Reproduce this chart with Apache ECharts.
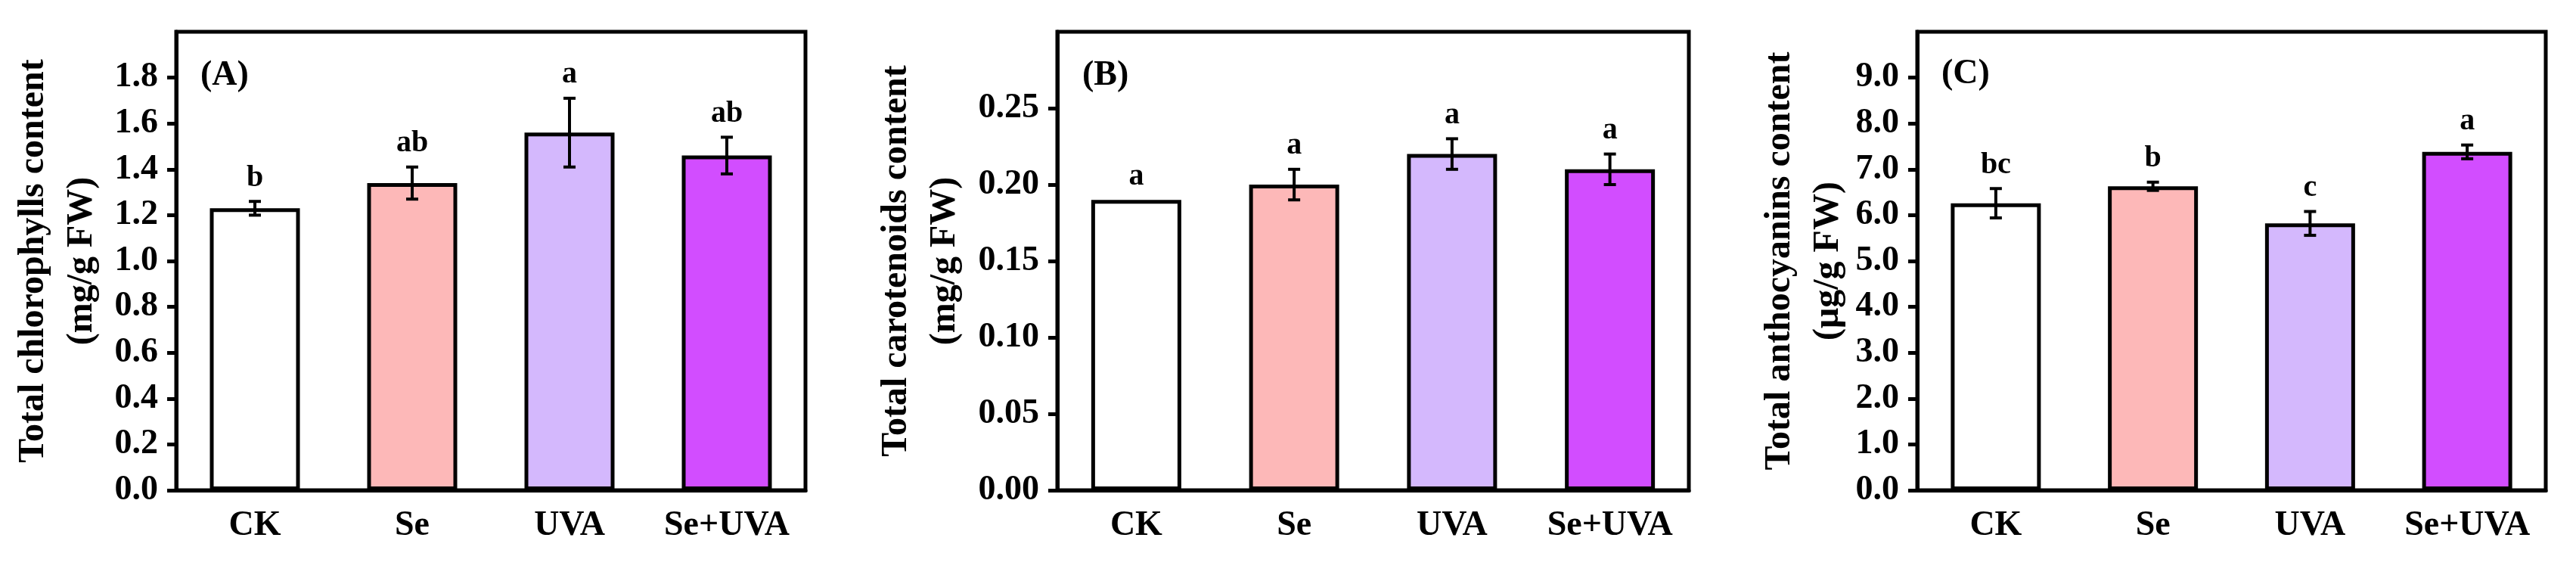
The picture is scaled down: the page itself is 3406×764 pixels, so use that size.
<!DOCTYPE html>
<html>
<head>
<meta charset="utf-8">
<script src="https://cdn.jsdelivr.net/npm/echarts@6/dist/echarts.min.js"></script>
<style>
  html, body { margin: 0; background: #fff; }
  #main { width: 3406px; height: 764px; }
</style>
</head>
<body>
<div id="main"></div>
<script>
// treatments
const categories = ['CK', 'Se', 'UVA', 'Se+UVA'];

// (A) total chlorophylls, mg/g FW
const chlMean = [1.23, 1.34, 1.56, 1.46];
const chlErr = [0.03, 0.07, 0.15, 0.08];
const chlLetters = ['b', 'ab', 'a', 'ab'];
const chlTicks = [0, 0.2, 0.4, 0.6, 0.8, 1.0, 1.2, 1.4, 1.6, 1.8];

// (B) total carotenoids, mg/g FW
const carMean = [0.19, 0.20, 0.22, 0.21];
const carErr = [0, 0.01, 0.01, 0.01];
const carLetters = ['a', 'a', 'a', 'a'];
const carTicks = [0, 0.05, 0.10, 0.15, 0.20, 0.25];

// (C) total anthocyanins, ug/g FW
const antMean = [6.26, 6.63, 5.82, 7.38];
const antErr = [0.32, 0.09, 0.26, 0.15];
const antLetters = ['bc', 'b', 'c', 'a'];
const antTicks = [0, 1, 2, 3, 4, 5, 6, 7, 8, 9];

const barColors = ['#ffffff', '#fdb8b8', '#d4b8fd', '#d24dff'];
const font = 'Liberation Serif';

const chart = echarts.init(document.getElementById('main'));

// grids: left / width in px
const grids = [
  { left: 233, width: 832 },
  { left: 1398, width: 835 },
  { left: 2535, width: 831 }
];

function yAxisFor(idx, max, ticks, digits, name, gap) {
  return {
    type: 'value',
    gridIndex: idx,
    min: 0,
    max: max,
    name: name,
    nameLocation: 'middle',
    nameGap: gap,
    nameTextStyle: { fontFamily: font, fontWeight: 'bold', fontSize: 48, lineHeight: 64, color: '#000' },
    axisLine: { show: true, lineStyle: { color: '#000', width: 5 } },
    axisTick: { show: true, length: 12, lineStyle: { color: '#000', width: 5 }, customValues: ticks },
    axisLabel: {
      margin: 24,
      fontFamily: font, fontWeight: 'bold', fontSize: 46, color: '#000',
      customValues: ticks,
      formatter: v => v.toFixed(digits)
    },
    splitLine: { show: false }
  };
}

function xAxisFor(idx) {
  return {
    type: 'category',
    gridIndex: idx,
    data: categories,
    axisLine: { lineStyle: { color: '#000', width: 5 } },
    axisTick: { alignWithLabel: true, interval: 0, length: 15, lineStyle: { color: '#000', width: 5 } },
    axisLabel: { interval: 0, margin: 24, fontFamily: font, fontWeight: 'bold', fontSize: 46, color: '#000' }
  };
}

function barSeries(idx, means) {
  return {
    type: 'bar',
    xAxisIndex: idx,
    yAxisIndex: idx,
    data: means,
    barWidth: 119,
    itemStyle: {
      color: p => barColors[p.dataIndex],
      borderColor: '#000',
      borderWidth: 5
    },
    z: 2
  };
}

// error bars + significance letters
function errSeries(idx, means, errs, letters) {
  return {
    type: 'custom',
    xAxisIndex: idx,
    yAxisIndex: idx,
    data: means.map((m, i) => [i, m]),
    z: 5,
    renderItem: (params, api) => {
      const i = params.dataIndex;
      const hi = api.coord([i, means[i] + errs[i]]);
      const lo = api.coord([i, means[i] - errs[i]]);
      const children = [];
      if (errs[i] > 0) {
        const st = { stroke: '#000', lineWidth: 4 };
        children.push(
          { type: 'line', shape: { x1: hi[0], y1: hi[1], x2: lo[0], y2: lo[1] }, style: st },
          { type: 'line', shape: { x1: hi[0] - 8, y1: hi[1], x2: hi[0] + 8, y2: hi[1] }, style: st },
          { type: 'line', shape: { x1: lo[0] - 8, y1: lo[1], x2: lo[0] + 8, y2: lo[1] }, style: st }
        );
      }
      children.push({
        type: 'text',
        style: {
          x: hi[0], y: hi[1] - 31,
          text: letters[i],
          fill: '#000',
          font: 'bold 40px "' + font + '"',
          align: 'center',
          verticalAlign: 'middle'
        }
      });
      return { type: 'group', children: children };
    }
  };
}

const option = {
  backgroundColor: '#fff',
  animation: false,
  title: [
    { text: '(A)', left: 265, top: 77 },
    { text: '(B)', left: 1431, top: 77 },
    { text: '(C)', left: 2567, top: 75 }
  ].map(t => Object.assign(t, {
    padding: 0,
    textStyle: { fontFamily: font, fontWeight: 'bold', fontSize: 46, lineHeight: 46, color: '#000' }
  })),
  grid: grids.map(g => ({
    left: g.left, width: g.width, top: 42, height: 606,
    show: true, borderColor: '#000', borderWidth: 5, backgroundColor: 'transparent'
  })),
  xAxis: [xAxisFor(0), xAxisFor(1), xAxisFor(2)],
  yAxis: [
    yAxisFor(0, 2.0, chlTicks, 1, 'Total chlorophylls content\n(mg/g FW)', 92),
    yAxisFor(1, 0.30, carTicks, 2, 'Total carotenoids content\n(mg/g FW)', 116),
    yAxisFor(2, 10, antTicks, 1, 'Total anthocyanins content\n(μg/g FW)', 76)
  ],
  series: [
    barSeries(0, chlMean), errSeries(0, chlMean, chlErr, chlLetters),
    barSeries(1, carMean), errSeries(1, carMean, carErr, carLetters),
    barSeries(2, antMean), errSeries(2, antMean, antErr, antLetters)
  ]
};

chart.setOption(option);
</script>
</body>
</html>
